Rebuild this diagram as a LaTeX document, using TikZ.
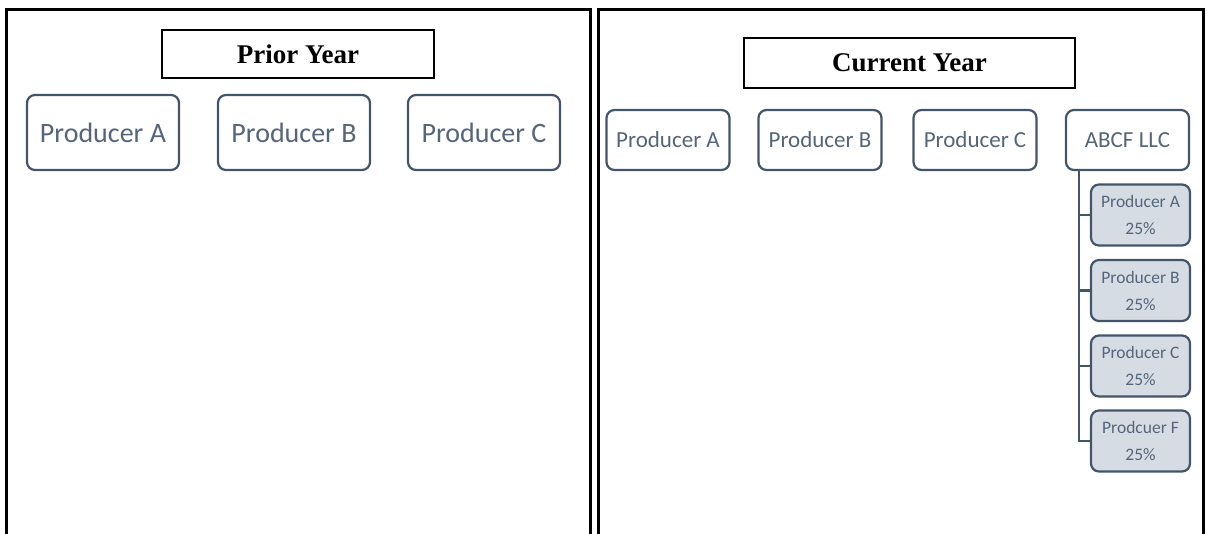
\documentclass[tikz,border=0pt]{standalone}
\usepackage{fontspec}
\setmainfont{Liberation Serif}
\newfontfamily\calfont{Carlito}
\definecolor{slate}{HTML}{44546A}
\definecolor{slatetext}{HTML}{55657A}
\definecolor{lightslate}{HTML}{D6DCE4}
\begin{document}
\begin{tikzpicture}[x = 1pt, y = -1pt,
    panel/.style = {line width = 3pt, black},
    title/.style = {draw, line width = 1.6pt, font = \fontsize{27}{30}\selectfont\bfseries},
    org/.style = {draw = slate, line width = 2.2pt, rounded corners = 8pt, fill = white,
      text = slatetext, inner sep = 0pt},
    bigorg/.style = {org, minimum width = 152pt, minimum height = 75pt, font = \calfont\fontsize{28}{30}\selectfont},
    midorg/.style = {org, minimum width = 123pt, minimum height = 60pt, font = \calfont\fontsize{23}{25}\selectfont},
    share/.style = {org, fill = lightslate, minimum width = 99pt, minimum height = 61pt,
      align = center, font = \calfont\fontsize{17.5}{27}\selectfont},
    link/.style = {draw = slate, line width = 2.6pt}]
      \useasboundingbox (0,0) rectangle (1207,533);
      \draw[panel] (6,534) -- (6,9) -- (590,9) -- (590,534);
      \draw[panel] (598,534) -- (598,9) -- (1203,9) -- (1203,534);
      \node[title, minimum width = 272pt, minimum height = 48pt] (prior) at (298,54) {Prior Year};
      \node[title, minimum width = 331pt, minimum height = 50pt] (current) at (909.5,63) {Current Year};
      \node[bigorg] (pa) at (103,132.5) {Producer A};
      \node[bigorg] (pb) at (294,132.5) {Producer B};
      \node[bigorg] (pc) at (484,132.5) {Producer C};
      \node[midorg] (ca) at (668,140) {Producer A};
      \node[midorg] (cb) at (820,140) {Producer B};
      \node[midorg] (cc) at (975,140) {Producer C};
      \node[midorg] (abcf) at (1127.5,140) {ABCF LLC};
      \node[share] (sa) at (1140.5,215) {Producer A\\25\%};
      \node[share] (sb) at (1140.5,290.5) {Producer B\\25\%};
      \node[share] (sc) at (1140.5,366) {Producer C\\25\%};
      \node[share] (sf) at (1140.5,441) {Prodcuer F\\25\%};
      \coordinate (trunk) at (1079,171);
      \draw[link] (trunk) |- (sf.west);
      \draw[link] (trunk) |- (sa.west)
      (trunk) |- (sb.west)
      (trunk) |- (sc.west);
    \end{tikzpicture}
\end{document}
